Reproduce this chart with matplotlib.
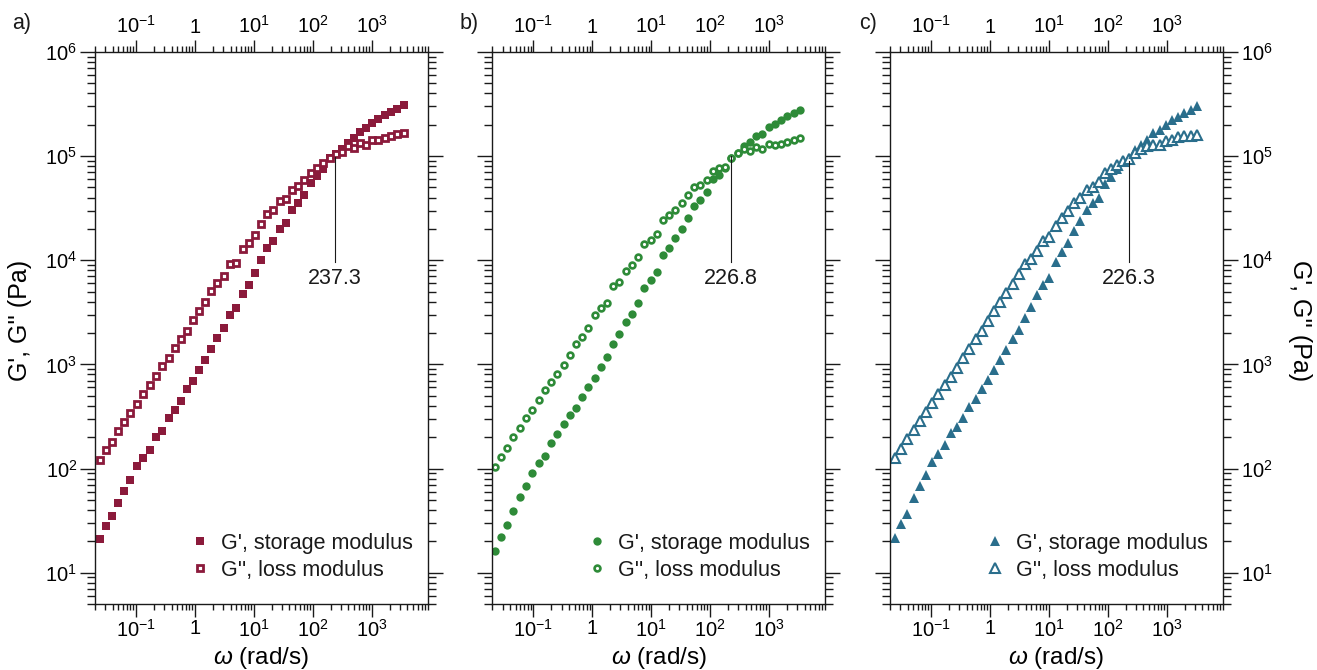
import numpy as np
import matplotlib
matplotlib.use('Agg')
import matplotlib.pyplot as plt
from matplotlib.ticker import LogLocator, FuncFormatter, NullFormatter

plt.rcParams['font.family'] = ['Liberation Sans', 'DejaVu Sans']
plt.rcParams['mathtext.fontset'] = 'custom'
plt.rcParams['mathtext.rm'] = 'Liberation Sans'
plt.rcParams['mathtext.it'] = 'Liberation Sans:italic'
plt.rcParams['mathtext.bf'] = 'Liberation Sans:bold'
plt.rcParams['text.color'] = '#1a1a1a'

# -------- data (omega in rad/s, moduli in Pa) --------
w_a = [0.0240, 0.0312, 0.0395, 0.0500, 0.0632, 0.0800, 0.104, 0.133, 0.169, 0.214,
       0.270, 0.356, 0.450, 0.570, 0.721, 0.912, 1.156, 1.50, 1.90, 2.40,
       3.08, 3.90, 4.93, 6.50, 8.11, 10.4, 13.2, 16.7, 21.1, 27.7,
       35.1, 43.9, 55.5, 70.3, 93.8, 118.6, 150.0, 192.3, 243.2, 311.9,
       395.4, 500.0, 632.4, 799.8, 1014, 1282, 1667, 2109, 2667, 3508]
gp_a = [21, 28, 35, 47, 61, 77, 105, 125, 152, 200,
        229, 305, 361, 441, 580, 687, 883, 1100, 1390, 1780,
        2230, 2990, 3470, 4750, 5800, 7500, 10000, 13100, 15400, 20100,
        22800, 30200, 35500, 42300, 55100, 63800, 74500, 96400, 105000, 118000,
        134000, 148000, 170000, 187000, 206000, 225000, 247000, 264000, 285000, 313000]
gpp_a = [120, 150, 180, 228, 281, 343, 416, 515, 637, 767,
         964, 1140, 1440, 1750, 2100, 2680, 3270, 3930, 5040, 6110,
         7130, 9160, 9500, 12900, 14500, 17600, 22300, 27600, 30400, 36700,
         38400, 46900, 51600, 58400, 69200, 77200, 86300, 96400, 104000, 110000,
         125000, 119000, 134000, 128000, 142000, 142000, 150000, 156000, 163000, 168000]

w_b = [0.0222, 0.0281, 0.0361, 0.0456, 0.0585, 0.0750, 0.0962, 0.122, 0.156, 0.200,
       0.253, 0.324, 0.416, 0.527, 0.676, 0.855, 1.096, 1.387, 1.778, 2.249,
       2.884, 3.698, 4.677, 6.00, 7.60, 9.75, 12.3, 15.8, 20.0, 25.6,
       32.9, 41.6, 53.3, 68.4, 86.7, 110.9, 140.6, 180.3, 228.0, 292.4,
       369.8, 474.2, 599.8, 769.1, 986.3, 1265, 1603, 2042, 2630, 3334]
gp_b = [16.3, 21.9, 28.7, 39.4, 53, 68.7, 91.5, 112, 132, 175,
        215, 269, 323, 380, 489, 610, 745, 942, 1170, 1560,
        1980, 2530, 3080, 3900, 5430, 6430, 7720, 11300, 13200, 16200,
        20100, 25500, 33200, 37900, 45200, 59700, 66200, 76700, 95000, 108000,
        125000, 137000, 156000, 163000, 190000, 204000, 220000, 242000, 258000, 280000]
gpp_b = [104, 130, 158, 202, 244, 305, 367, 451, 567, 671,
         813, 978, 1220, 1580, 1830, 2230, 2970, 3470, 3900, 5600,
         6250, 7970, 8960, 10800, 14200, 15700, 17700, 24500, 27200, 30400,
         35200, 42000, 50500, 52400, 58900, 71300, 77300, 79100, 95700, 106000,
         118000, 112000, 123000, 116000, 132000, 128000, 132000, 138000, 142000, 149000]

w_c = [0.0240, 0.0308, 0.0395, 0.0507, 0.0641, 0.0822, 0.104, 0.133, 0.169, 0.216,
       0.274, 0.351, 0.445, 0.570, 0.731, 0.925, 1.169, 1.479, 1.875, 2.404,
       3.083, 3.846, 4.932, 6.324, 7.998, 10.14, 13.15, 16.67, 20.80, 26.67,
       33.73, 43.85, 55.46, 69.34, 88.92, 110.9, 142.2, 180.3, 228.0, 288.4,
       369.8, 467.7, 592.9, 760.3, 961.6, 1233, 1560, 1972, 2564, 3243]
gp_c = [21.5, 29.4, 36.9, 52.2, 67.6, 86.3, 115, 139, 170, 217,
        250, 307, 389, 464, 584, 707, 875, 1090, 1360, 1750,
        2130, 2820, 3520, 4650, 5760, 6820, 9640, 12100, 14500, 19100,
        23800, 30200, 35200, 39900, 53500, 62900, 75700, 87600, 96400, 114000,
        127000, 142000, 167000, 180000, 197000, 221000, 238000, 260000, 280000, 306000]
gpp_c = [125, 155, 190, 232, 289, 351, 428, 515, 633, 760,
         929, 1140, 1390, 1740, 2070, 2620, 3270, 3930, 4900, 5890,
         7340, 9160, 10200, 12300, 15300, 16900, 21300, 25600, 29700, 35200,
         39300, 47200, 50800, 56400, 68200, 74500, 82000, 89600, 94200, 108000,
         117000, 125000, 129000, 127000, 139000, 142000, 152000, 156000, 156000, 161000]

# crossover frequencies and the modulus where the marker line starts
cross_w = [237.3, 226.8, 226.3]
cross_g = [98000, 100000, 89000]

panel_labels = ['a)', 'b)', 'c)']
colors = ['#8b1a3b', '#2e8b38', '#2a6e8c']


def decade_label(v, pos):
    """Tick text: '1' for 10^0, 10^n otherwise."""
    if np.isclose(v, 1.0):
        return '1'
    return r'$10^{%d}$' % int(round(np.log10(v)))


def draw_panel(ax, w, g1, g2, color, filled, hollow, cross, cross_top, side):
    """Draws one frequency sweep panel."""
    ax.plot(w, g1, linestyle='none', color=color, label="G', storage modulus", **filled)
    ax.plot(w, g2, linestyle='none', color=color, markerfacecolor='white',
            markeredgecolor=color, label="G'', loss modulus", **hollow)

    ax.set_xscale('log')
    ax.set_yscale('log')
    ax.set_xlim(0.02, 9000)
    ax.set_ylim(5, 1e6)

    # crossover marker
    ax.plot([cross, cross], [cross_top, 9700], color='#1a1a1a', lw=0.8)
    ax.text(cross, 8500, '%.1f' % cross, ha='center', va='top', fontsize=15.5)

    for axis in (ax.xaxis, ax.yaxis):
        axis.set_major_locator(LogLocator(base=10, numticks=20))
        axis.set_minor_locator(LogLocator(base=10, subs=np.arange(2, 10), numticks=20))
        axis.set_major_formatter(FuncFormatter(decade_label))
        axis.set_minor_formatter(NullFormatter())

    ax.tick_params(axis='both', which='both', direction='out', top=True, right=True,
                   labelsize=14.5, color='#1a1a1a', width=1)
    ax.tick_params(axis='y', which='major', length=10.8, pad=2)
    ax.tick_params(axis='y', which='minor', length=5.8)
    ax.tick_params(axis='x', which='major', length=9, pad=2)
    ax.tick_params(axis='x', which='minor', length=4.5)
    ax.tick_params(axis='x', labeltop=True, labelbottom=True)
    ax.tick_params(axis='y', labelleft=(side == 'left'), labelright=(side == 'right'))
    for s in ax.spines.values():
        s.set_linewidth(1.0)
        s.set_color('#1a1a1a')

    ax.set_xlabel(r'$\omega$ (rad/s)', fontsize=17.5)
    ax.xaxis.set_label_coords(0.5, -0.074)
    if side == 'left':
        ax.set_ylabel("G', G'' (Pa)", fontsize=18, rotation=90, va='center')
        ax.yaxis.set_label_coords(-0.226, 0.513)
    elif side == 'right':
        ax.yaxis.set_label_position('right')
        ax.set_ylabel("G', G'' (Pa)", fontsize=18, rotation=270, va='center')
        ax.yaxis.set_label_coords(1.23, 0.513)

    ax.legend(loc='lower left', bbox_to_anchor=(0.282, 0.042), frameon=False, fontsize=15.5,
              handlelength=1.0, handletextpad=0.5, labelspacing=0.28,
              borderpad=0, borderaxespad=0)


# -------- Main Execution --------
if __name__ == "__main__":
    fig = plt.figure(figsize=(13.17, 6.70), dpi=100)
    lefts = [95 / 1317, 492.3 / 1317, 890 / 1317]
    width = 333 / 1317
    bottom = 66 / 670
    height = 552 / 670

    styles = [
        (dict(marker='s', markersize=5.8, markeredgewidth=0),
         dict(marker='s', markersize=4.1, markeredgewidth=2.0)),
        (dict(marker='o', markersize=6.0, markeredgewidth=0),
         dict(marker='o', markersize=4.2, markeredgewidth=1.9)),
        (dict(marker='^', markersize=6.6, markeredgewidth=0),
         dict(marker='^', markersize=7.0, markeredgewidth=1.5)),
    ]
    data = [(w_a, gp_a, gpp_a), (w_b, gp_b, gpp_b), (w_c, gp_c, gpp_c)]
    sides = ['left', 'none', 'right']
    label_x = [12, 460, 859]

    for i in range(3):
        ax = fig.add_axes([lefts[i], bottom, width, height])
        w, g1, g2 = data[i]
        draw_panel(ax, w, g1, g2, colors[i], styles[i][0], styles[i][1],
                   cross_w[i], cross_g[i], sides[i])
        fig.text(label_x[i] / 1317, 1 - 24 / 670, panel_labels[i], fontsize=15.5,
                 ha='left', va='center')

    fig.savefig('out.png', dpi=100)
